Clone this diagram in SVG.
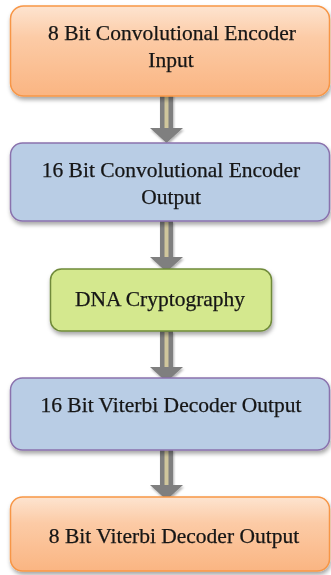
<svg xmlns="http://www.w3.org/2000/svg" width="331" height="575" viewBox="0 0 331 575">
<defs>
<linearGradient id="og" x1="0" y1="0" x2="0" y2="1">
<stop offset="0" stop-color="#fde4d0"/>
<stop offset="0.35" stop-color="#fccba6"/>
<stop offset="1" stop-color="#fab582"/>
</linearGradient>
<filter id="sh" x="-10%" y="-10%" width="120%" height="130%">
<feDropShadow dx="1" dy="3" stdDeviation="2" flood-color="#000" flood-opacity="0.35"/>
</filter>
<filter id="ash" x="-30%" y="-10%" width="160%" height="130%">
<feDropShadow dx="1" dy="2" stdDeviation="1.2" flood-color="#000" flood-opacity="0.3"/>
</filter>
<g id="arrow">
<rect x="-6.5" y="0" width="13" height="37" fill="#7f7f7f"/>
<rect x="-2" y="1" width="4" height="35" fill="#cfc69c"/>
<polygon points="-16.5,36 16.5,36 0,51" fill="#7f7f7f"/>
</g>
</defs>
<style>
.t{font-family:"Liberation Serif","Times New Roman",serif;font-size:21.5px;fill:#151515;stroke:#151515;stroke-width:0.25;text-anchor:middle}
.or{fill:url(#og);stroke:#f79646;stroke-width:1.5}
.bl{fill:#b9cde5;stroke:#8a72ad;stroke-width:1.5}
.gr{fill:#d4e88e;stroke:#6f8a3a;stroke-width:1.5}
</style>
<g id="connectors" filter="url(#ash)">
<use href="#arrow" x="166.5" y="92"/>
<use href="#arrow" x="166.5" y="221"/>
<use href="#arrow" x="166.5" y="331"/>
<use href="#arrow" x="166.5" y="449"/>
</g>
<g id="n1" filter="url(#sh)">
<rect class="or" x="10.5" y="6" width="319" height="90" rx="13"/>
<text class="t" x="172" y="40">8 Bit Convolutional Encoder</text>
<text class="t" x="171" y="67">Input</text>
</g>
<g id="n2" filter="url(#sh)">
<rect class="bl" x="10.5" y="143" width="319" height="78" rx="12"/>
<text class="t" x="171" y="177">16 Bit Convolutional Encoder</text>
<text class="t" x="171" y="204">Output</text>
</g>
<g id="n3" filter="url(#sh)">
<rect class="gr" x="50.5" y="269" width="221" height="62" rx="11"/>
<text class="t" x="160" y="306">DNA Cryptography</text>
</g>
<g id="n4" filter="url(#sh)">
<rect class="bl" x="10.5" y="378" width="319" height="72" rx="12"/>
<text class="t" x="171" y="412">16 Bit Viterbi Decoder Output</text>
</g>
<g id="n5" filter="url(#sh)">
<rect class="or" x="10.5" y="497" width="319" height="74" rx="12"/>
<text class="t" x="174" y="543">8 Bit Viterbi Decoder Output</text>
</g>
</svg>
